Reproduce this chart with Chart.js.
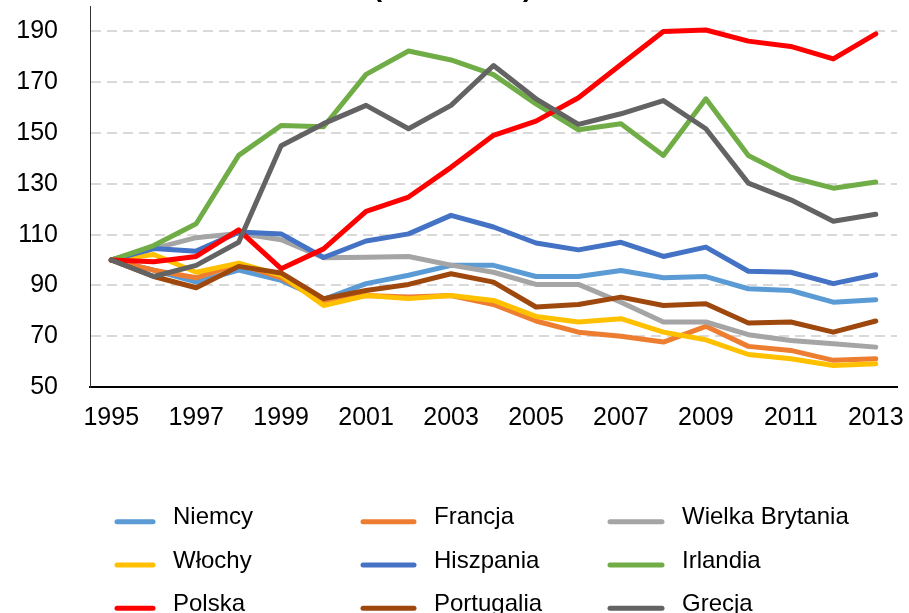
<!DOCTYPE html>
<html lang="pl">
<head>
<meta charset="utf-8">
<script src="https://cdn.jsdelivr.net/npm/chart.js@4"></script>
<style>
  html, body { margin: 0; padding: 0; background: #fff; overflow: hidden; width: 909px; height: 613px; }
  #wrap { position: absolute; left: 0; top: -37px; width: 909px; height: 650px; }
</style>
</head>
<body>
<div id="wrap"><canvas id="chart"></canvas></div>
<script>
// index values, 1995 = 100
const years = ['1995', '1996', '1997', '1998', '1999', '2000', '2001', '2002', '2003', '2004',
               '2005', '2006', '2007', '2008', '2009', '2010', '2011', '2012', '2013'];
const yTicks = [50, 70, 90, 110, 130, 150, 170, 190];

const niemcy      = [100, 96, 91.3, 96, 92, 84.5, 90.7, 94, 97.9, 97.9, 93.5, 93.5, 95.9, 93, 93.5, 88.7, 88, 83.4, 84.4];
const francja     = [100, 96, 93, 98.5, 93, 83.5, 86, 85.4, 86, 82.5, 76, 71.6, 70, 67.7, 73.9, 66, 64.4, 60.5, 61.1];
const wielkaBryt  = [100, 104.5, 108.8, 110.5, 108, 100.9, 101.1, 101.4, 98, 95.2, 90.4, 90.4, 83.4, 75.6, 75.6, 70.6, 68.3, 67, 65.7];
const wlochy      = [100, 102.2, 95.2, 98.8, 94, 82.1, 86, 84.8, 86, 84.1, 77.8, 75.6, 76.9, 71.6, 68.6, 62.8, 61.1, 58.5, 59.2];
const hiszpania   = [100, 104.5, 103.5, 111, 110.3, 101, 107.5, 110.3, 117.6, 113, 106.7, 104, 107, 101.4, 105.1, 95.6, 95.2, 90.7, 94.2];
const irlandia    = [100, 105.7, 114.3, 141.2, 153, 152.5, 173.1, 182.3, 178.8, 173, 161.5, 151.3, 153.7, 141.2, 163.5, 141.2, 132.6, 128.3, 130.7];
const polska      = [100, 99.3, 101.4, 111.9, 96.6, 104.4, 119.2, 124.8, 136.5, 149.1, 154.7, 163.9, 177, 190, 190.6, 186.2, 184.1, 179.2, 189.1];
const portugalia  = [100, 93.5, 89.1, 97.5, 94.9, 84.8, 88, 90.4, 94.6, 91.3, 81.5, 82.5, 85.4, 82.1, 82.8, 75.2, 75.6, 71.6, 76];
const grecja      = [100, 93.5, 97.9, 107, 145, 153.7, 160.9, 151.7, 160.9, 176.6, 163.5, 153.4, 157.6, 162.8, 151.7, 130.3, 123.7, 115.3, 118];

const seriesNames  = ['Niemcy', 'Francja', 'Wielka Brytania', 'Włochy', 'Hiszpania', 'Irlandia', 'Polska', 'Portugalia', 'Grecja'];
const seriesData   = [niemcy, francja, wielkaBryt, wlochy, hiszpania, irlandia, polska, portugalia, grecja];
const seriesColors = ['#5B9BD5', '#ED7D31', '#A5A5A5', '#FFC000', '#4472C4', '#70AD47', '#FF0000', '#9E480E', '#636363'];

const FONT = "'Liberation Sans', Arial, sans-serif";

// legend in three fixed columns, like the Excel original
const columnLegend = {
    id: 'columnLegend',
    afterDraw(chart) {
        const ctx = chart.ctx;
        const lineStart = [117, 363, 610];
        const lineEnd = [153, 414, 662];
        const textX = [173, 434, 682];
        const rowY = [558.7, 602, 645.3];
        ctx.save();
        ctx.font = '24px ' + FONT;
        ctx.textBaseline = 'middle';
        ctx.textAlign = 'left';
        ctx.lineCap = 'round';
        chart.data.datasets.forEach((ds, i) => {
            const col = i % 3;
            const row = Math.floor(i / 3);
            ctx.strokeStyle = ds.borderColor;
            ctx.lineWidth = 5;
            ctx.beginPath();
            ctx.moveTo(lineStart[col], rowY[row]);
            ctx.lineTo(lineEnd[col], rowY[row]);
            ctx.stroke();
            ctx.fillStyle = '#000';
            ctx.fillText(ds.label, textX[col], rowY[row] - 4);
        });
        ctx.restore();
    }
};

function buildDatasets() {
    return seriesNames.map((name, i) => ({
        label: name,
        data: seriesData[i],
        borderColor: seriesColors[i],
        backgroundColor: seriesColors[i],
        borderWidth: 5,
        borderCapStyle: 'round',
        borderJoinStyle: 'round',
        pointRadius: 0,
        pointHoverRadius: 0,
        tension: 0,
        order: seriesNames.length - i
    }));
}

const ctx = document.getElementById('chart').getContext('2d');
new Chart(ctx, {
    type: 'line',
    data: {
        labels: years,
        datasets: buildDatasets()
    },
    options: {
        responsive: true,
        maintainAspectRatio: false,
        animation: false,
        layout: { padding: { left: 8.3, right: 12, top: 0, bottom: 176 } },
        plugins: {
            legend: { display: false },
            tooltip: { enabled: false },
            title: {
                display: true,
                text: '(1995 = 100)',
                color: '#000',
                font: { family: FONT, size: 28, weight: 'bold' },
                padding: { top: 8.5, bottom: 1 }
            }
        },
        scales: {
            x: {
                offset: true,
                grid: { display: false, drawTicks: true, tickLength: 12 },
                border: { display: true, color: '#000', width: 2 },
                ticks: {
                    autoSkip: false,
                    maxRotation: 0,
                    padding: 4,
                    color: '#000',
                    font: { family: FONT, size: 25 },
                    callback: (val, i) => (i % 2 === 0 ? years[i] : '')
                }
            },
            y: {
                min: 50,
                max: 200,
                afterBuildTicks: (scale) => {
                    scale.ticks = yTicks.map(v => ({ value: v }));
                },
                grid: {
                    color: (c) => (c.tick && c.tick.value === 50 ? 'rgba(0,0,0,0)' : '#D9D9D9'),
                    lineWidth: 2,
                    drawTicks: true,
                    tickLength: 24,
                    tickColor: 'rgba(0,0,0,0)'
                },
                border: { display: true, color: '#333', width: 1, dash: [10, 6] },
                ticks: {
                    padding: 8,
                    color: '#000',
                    font: { family: FONT, size: 25 }
                }
            }
        }
    },
    plugins: [columnLegend]
});
</script>
</body>
</html>
